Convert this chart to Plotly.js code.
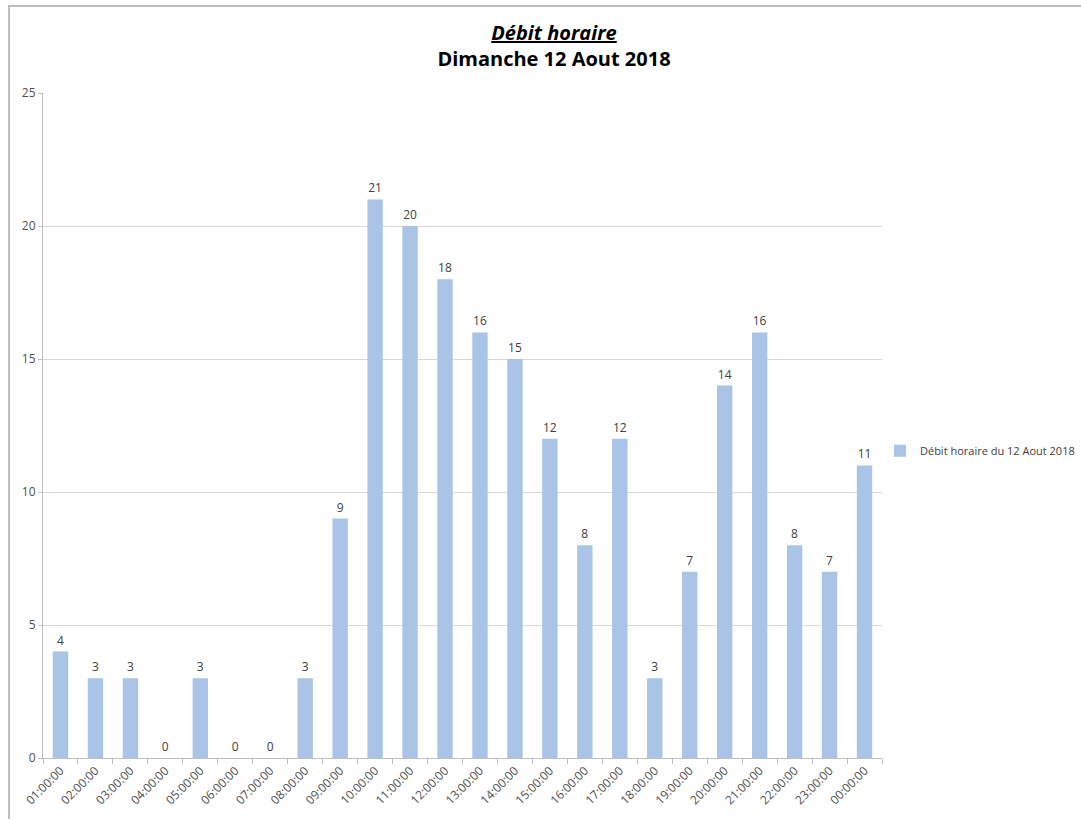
<!DOCTYPE html>
<html>
<head>
<meta charset="utf-8">
<script src="https://cdn.plot.ly/plotly-3.0.1.min.js"></script>
<style>
html,body{margin:0;padding:0;background:#fff;overflow:hidden;}
#chart{position:absolute;left:0;top:0;width:1081px;height:819px;}
#frame{position:absolute;left:8px;top:5px;width:1200px;height:1000px;border-left:2px solid #bdbdbd;border-top:2px solid #bdbdbd;pointer-events:none;}
</style>
</head>
<body>
<div id="chart"></div>
<div id="frame"></div>
<script>
const hours = ["01:00:00","02:00:00","03:00:00","04:00:00","05:00:00","06:00:00","07:00:00","08:00:00","09:00:00","10:00:00","11:00:00","12:00:00","13:00:00","14:00:00","15:00:00","16:00:00","17:00:00","18:00:00","19:00:00","20:00:00","21:00:00","22:00:00","23:00:00","00:00:00"];
const debit = [4,3,3,0,3,0,0,3,9,21,20,18,16,15,12,8,12,3,7,14,16,8,7,11];
const seriesName = "Débit horaire du 12 Aout 2018";
const titleLine1 = "Débit horaire";
const titleLine2 = "Dimanche 12 Aout 2018";

const font = "Open Sans, Liberation Sans, sans-serif";

const trace = {
  type: 'bar',
  x: hours,
  y: debit,
  name: seriesName,
  marker: {color: '#a9c4e7'},
  text: debit.map(String),
  textposition: 'outside',
  textfont: {family: font, size: 12, color: '#404040'},
  cliponaxis: false,
  showlegend: true
};

const layout = {
  width: 1081,
  height: 819,
  paper_bgcolor: '#ffffff',
  plot_bgcolor: '#ffffff',
  margin: {l: 43, r: 199, t: 93, b: 61, autoexpand: false},
  font: {family: font, color: '#404040'},
  title: {
    text: '<b><i><span style="text-decoration:underline">' + titleLine1 + '</span></i></b><br><b>' + titleLine2 + '</b>',
    x: 554/1081, xref: 'container', xanchor: 'center',
    y: 1 - 40/819, yref: 'container', yanchor: 'top',
    font: {family: font, size: 20, color: '#000000'}
  },
  bargap: 0.56,
  xaxis: {
    type: 'category',
    tickangle: -45,
    tickfont: {family: font, size: 12, color: '#505050'},
    showline: true, linecolor: '#bfbfbf', linewidth: 1,
    ticks: 'outside', tickson: 'boundaries', ticklen: 5, tickcolor: '#bfbfbf',
    showgrid: false, zeroline: false
  },
  yaxis: {
    range: [0, 25], dtick: 5,
    tickfont: {family: font, size: 12, color: '#505050'},
    showline: true, linecolor: '#bfbfbf', linewidth: 1,
    ticks: 'outside', ticklen: 4, tickcolor: '#bfbfbf',
    showgrid: true, gridcolor: '#d9d9d9', gridwidth: 1,
    zeroline: false
  },
  showlegend: true,
  legend: {
    x: 0.9976, xanchor: 'left', y: 0.462, yanchor: 'middle',
    font: {family: font, size: 11, color: '#404040'},
    itemwidth: 30, bgcolor: 'rgba(0,0,0,0)'
  }
};

Plotly.newPlot('chart', [trace], layout, {displayModeBar: false, staticPlot: true});
</script>
</body>
</html>
